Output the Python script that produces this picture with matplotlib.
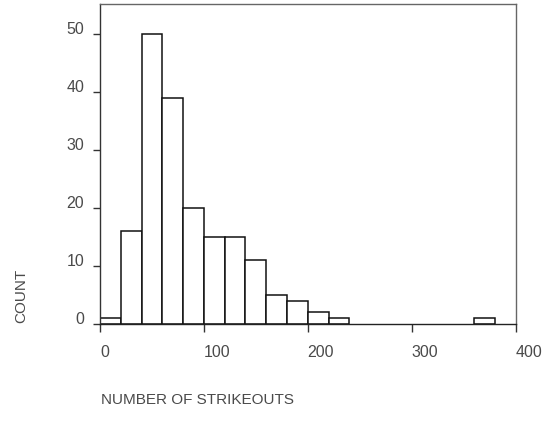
import matplotlib.pyplot as plt

# histogram of strikeouts, bins of width 20
bin_starts = [0, 20, 40, 60, 80, 100, 120, 140, 160, 180, 200, 220, 360]
counts = [1, 16, 50, 39, 20, 15, 15, 11, 5, 4, 2, 1, 1]
bin_width = 20
xticks = [0, 100, 200, 300, 400]
yticks = [0, 10, 20, 30, 40, 50]

plt.rcParams['font.family'] = ['Liberation Sans', 'DejaVu Sans']
text_color = '#4a4a4a'

fig = plt.figure(figsize=(5.46, 4.26), dpi=100)
ax = fig.add_axes([100 / 546, 1 - 324 / 426, 415.5 / 546, 320 / 426])

ax.bar(bin_starts, counts, width=bin_width, align='edge',
       facecolor='white', edgecolor='#111111', linewidth=1.1)

ax.set_xlim(0, 400)
ax.set_ylim(0, 55.2)
ax.set_xticks(xticks)
ax.set_yticks(yticks)

for s in ax.spines.values():
    s.set_color('#666666')
    s.set_linewidth(1.0)
ax.spines['left'].set_color('#333333')
ax.spines['bottom'].set_color('#222222')

ax.tick_params(axis='x', direction='out', length=5.8, width=1, color='#333333',
               pad=9, labelsize=11.5, labelcolor=text_color)
ax.tick_params(axis='y', direction='out', length=5, width=1, color='#333333',
               pad=6.5, labelsize=11.5, labelcolor=text_color)
for lab in ax.get_yticklabels():
    lab.set_verticalalignment('baseline')
for lab in ax.get_xticklabels():
    lab.set_horizontalalignment('left')

fig.text(101 / 546, 1 - 404 / 426, 'NUMBER OF STRIKEOUTS', ha='left',
         va='baseline', fontsize=11, color=text_color)
fig.text(21 / 546, 1 - 323 / 426, 'COUNT', rotation=90, ha='center',
         va='bottom', fontsize=11, color=text_color)

fig.savefig('out.png', dpi=100)
